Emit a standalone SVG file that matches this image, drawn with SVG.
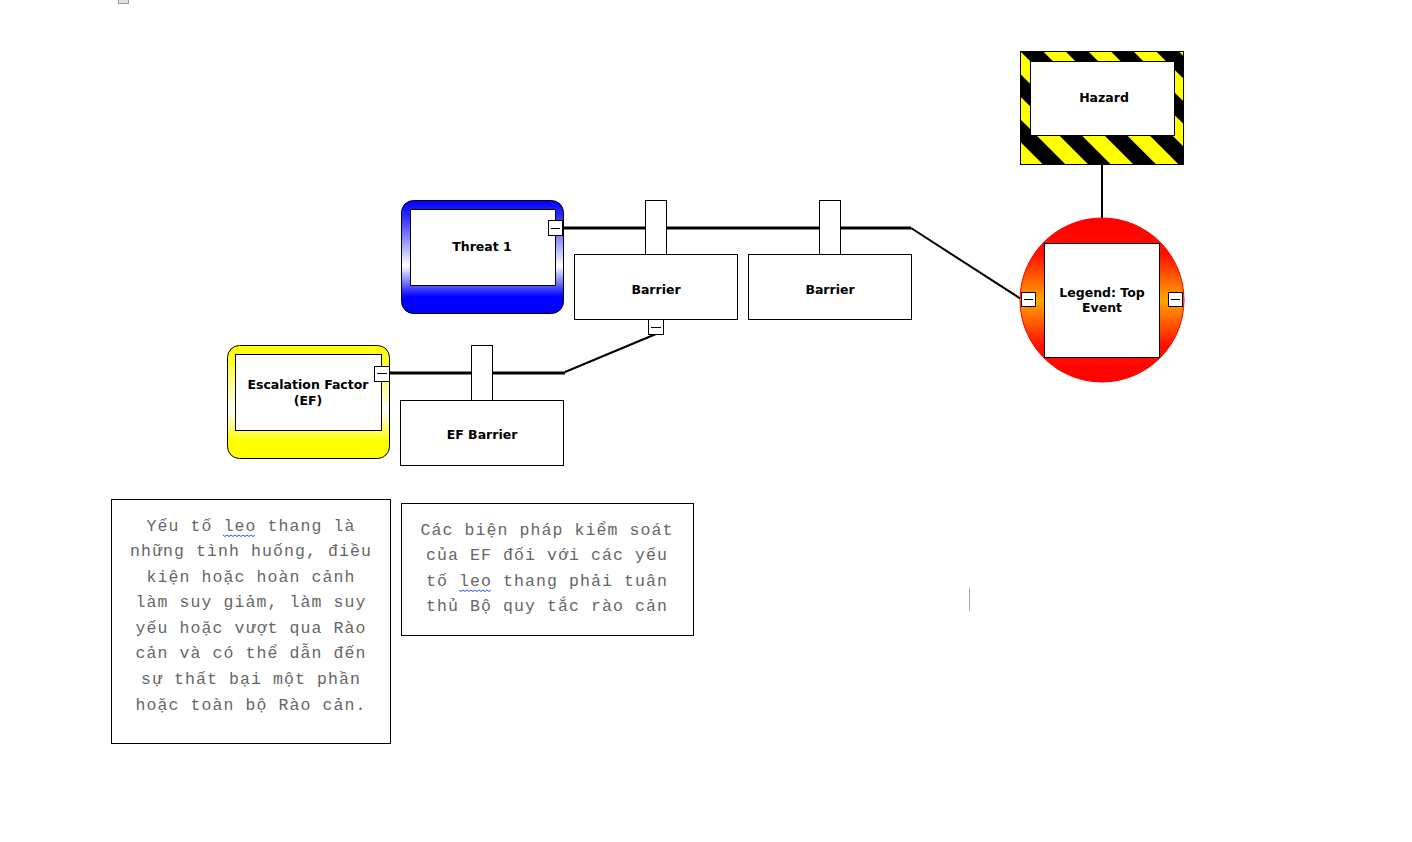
<svg xmlns="http://www.w3.org/2000/svg" width="1412" height="842" viewBox="0 0 1412 842">
<defs>
<style>
.lbl{font-family:"DejaVu Sans",Verdana,sans-serif;font-weight:bold;font-size:12.5px;fill:#000;text-anchor:middle}
.box{fill:#fff;stroke:#000;stroke-width:1}
.mono{font-family:"Liberation Mono","Courier New",monospace;font-size:16.5px;fill:#666;text-anchor:middle;letter-spacing:1.1px}
.wire{fill:none;stroke:#000;stroke-width:3}
.wire2{fill:none;stroke:#000;stroke-width:2}
.squig{fill:none;stroke:#3355dd;stroke-width:1}
</style>
<pattern id="stripes" width="32" height="32" patternUnits="userSpaceOnUse" patternTransform="translate(1020,51) rotate(-45)">
<rect width="32" height="32" fill="#ffff00"/>
<rect width="16" height="32" fill="#000"/>
</pattern>
<linearGradient id="blueG" x1="0" y1="0" x2="0" y2="1">
<stop offset="0" stop-color="#0000ff"/>
<stop offset="0.15" stop-color="#3030ff"/>
<stop offset="0.58" stop-color="#ffffff"/>
<stop offset="0.85" stop-color="#0000ff"/>
<stop offset="1" stop-color="#0000ff"/>
</linearGradient>
<linearGradient id="yellowG" x1="0" y1="0" x2="0" y2="1">
<stop offset="0" stop-color="#ffff00"/>
<stop offset="0.15" stop-color="#ffff30"/>
<stop offset="0.58" stop-color="#ffffff"/>
<stop offset="0.85" stop-color="#ffff00"/>
<stop offset="1" stop-color="#ffff00"/>
</linearGradient>
<linearGradient id="redG" x1="0" y1="0" x2="0" y2="1">
<stop offset="0" stop-color="#ff0000"/>
<stop offset="0.22" stop-color="#ff1000"/>
<stop offset="0.5" stop-color="#ffa500"/>
<stop offset="0.78" stop-color="#ff1000"/>
<stop offset="1" stop-color="#ff0000"/>
</linearGradient>
</defs>
<rect width="1412" height="842" fill="#fff"/>
<rect x="118.5" y="-3.5" width="10" height="7" fill="#e0e0e0" stroke="#999"/>

<g id="connectors">
<polyline class="wire" points="563,228 911,228"/>
<polyline class="wire2" points="911,228 1021,299"/>
<line class="wire2" x1="1102" y1="164" x2="1102" y2="219"/>
<polyline class="wire2" points="656,334 565,372"/>
<polyline class="wire" points="389,373 565,373"/>
</g>

<g id="hazard">
<rect x="1020.5" y="51.5" width="163" height="113" fill="url(#stripes)" stroke="#000"/>
<rect class="box" x="1030.5" y="61.5" width="144" height="74"/>
<text class="lbl" x="1104" y="102">Hazard</text>
</g>

<g id="top-event">
<circle cx="1102" cy="300" r="82" fill="url(#redG)" stroke="#ff0000" stroke-width="1"/>
<rect class="box" x="1044.5" y="243.5" width="115" height="114"/>
<text class="lbl" x="1102" y="297">Legend: Top</text>
<text class="lbl" x="1102" y="312">Event</text>
<rect class="box" x="1021.5" y="292.5" width="14" height="14"/>
<line x1="1024" y1="299.5" x2="1033" y2="299.5" stroke="#000"/>
<rect class="box" x="1168.5" y="292.5" width="14" height="14"/>
<line x1="1171" y1="299.5" x2="1180" y2="299.5" stroke="#000"/>
</g>

<g id="threat1">
<rect x="401.5" y="200.5" width="162" height="113" rx="12" ry="12" fill="url(#blueG)" stroke="#000"/>
<rect class="box" x="410.5" y="209.5" width="145" height="76"/>
<text class="lbl" x="482" y="251">Threat 1</text>
<rect class="box" x="548.5" y="220.5" width="14" height="15"/>
<line x1="551" y1="228.5" x2="560" y2="228.5" stroke="#000"/>
</g>

<g id="barrier1">
<rect class="box" x="645.5" y="200.5" width="21" height="54"/>
<rect class="box" x="574.5" y="254.5" width="163" height="65"/>
<text class="lbl" x="656" y="294">Barrier</text>
<rect class="box" x="648.5" y="319.5" width="15" height="15"/>
<line x1="651" y1="327.5" x2="661" y2="327.5" stroke="#000"/>
</g>

<g id="barrier2">
<rect class="box" x="819.5" y="200.5" width="21" height="54"/>
<rect class="box" x="748.5" y="254.5" width="163" height="65"/>
<text class="lbl" x="830" y="294">Barrier</text>
</g>

<g id="escalation-factor">
<rect x="227.5" y="345.5" width="162" height="113" rx="12" ry="12" fill="url(#yellowG)" stroke="#000"/>
<rect class="box" x="235.5" y="354.5" width="146" height="76"/>
<text class="lbl" x="308" y="389">Escalation Factor</text>
<text class="lbl" x="308" y="405">(EF)</text>
<rect class="box" x="374.5" y="366.5" width="15" height="15"/>
<line x1="377" y1="373.5" x2="387" y2="373.5" stroke="#000"/>
</g>

<g id="ef-barrier">
<rect class="box" x="471.5" y="345.5" width="21" height="55"/>
<rect class="box" x="400.5" y="400.5" width="163" height="65"/>
<text class="lbl" x="482" y="439">EF Barrier</text>
</g>

<g id="note1">
<rect class="box" x="111.5" y="499.5" width="279" height="244"/>
<text class="mono" x="251" y="531">Yếu tố leo thang là</text>
<text class="mono" x="251" y="556">những tình huống, điều</text>
<text class="mono" x="251" y="582">kiện hoặc hoàn cảnh</text>
<text class="mono" x="251" y="607">làm suy giảm, làm suy</text>
<text class="mono" x="251" y="633">yếu hoặc vượt qua Rào</text>
<text class="mono" x="251" y="658">cản và có thể dẫn đến</text>
<text class="mono" x="251" y="684">sự thất bại một phần</text>
<text class="mono" x="251" y="710">hoặc toàn bộ Rào cản.</text>
<path class="squig" d="M223,535 l2,1.5 l2,-1.5 l2,1.5 l2,-1.5 l2,1.5 l2,-1.5 l2,1.5 l2,-1.5 l2,1.5 l2,-1.5 l2,1.5 l2,-1.5 l2,1.5 l2,-1.5 l2,1.5 l2,-1.5"/>
</g>

<g id="note2">
<rect class="box" x="401.5" y="503.5" width="292" height="132"/>
<text class="mono" x="547" y="535">Các biện pháp kiểm soát</text>
<text class="mono" x="547" y="560">của EF đối với các yếu</text>
<text class="mono" x="547" y="586">tố leo thang phải tuân</text>
<text class="mono" x="547" y="611">thủ Bộ quy tắc rào cản</text>
<path class="squig" d="M459,590 l2,1.5 l2,-1.5 l2,1.5 l2,-1.5 l2,1.5 l2,-1.5 l2,1.5 l2,-1.5 l2,1.5 l2,-1.5 l2,1.5 l2,-1.5 l2,1.5 l2,-1.5 l2,1.5 l2,-1.5"/>
</g>

<line x1="969.5" y1="588" x2="969.5" y2="611" stroke="#aaa" stroke-width="1"/>
</svg>
